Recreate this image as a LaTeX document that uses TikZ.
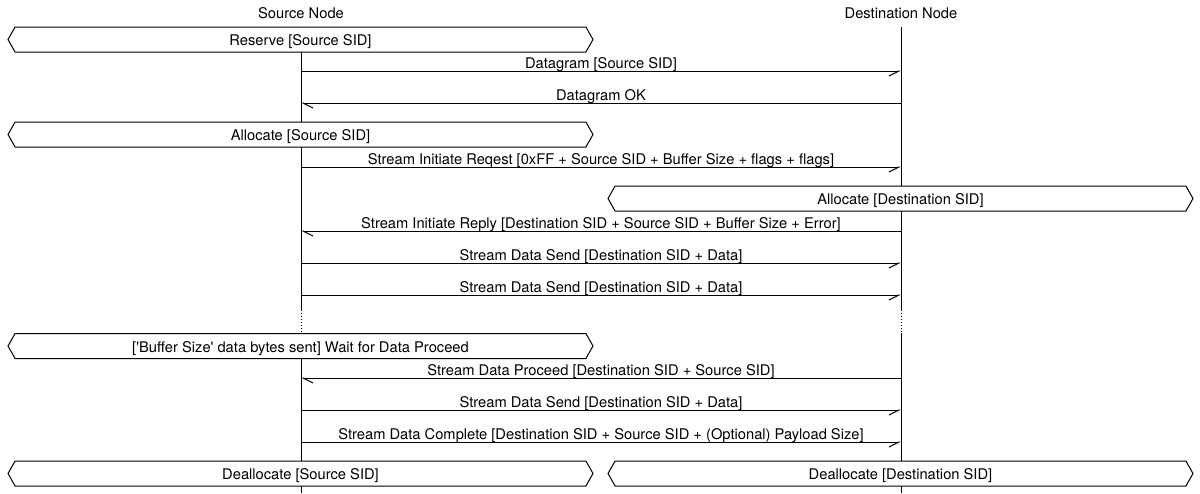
\documentclass[tikz,border=0pt]{standalone}
\usepackage{fontspec}
\setmainfont{TeX Gyre Heros}
\usetikzlibrary{arrows.meta,shapes.symbols}
\begin{document}
\begin{tikzpicture}[x=1pt,y=-1pt,
  every node/.style={font=\fontsize{14.7}{16}\selectfont},
  lifeline/.style={line width=1pt},
  gap/.style={line width=1pt,dotted},
  evbox/.style={signal, signal to=west and east, draw, fill=white, line width=1pt,
    minimum width=585pt, minimum height=25pt, inner sep=0pt, outer sep=0pt, signal pointer angle=121,
    text height=12.5pt, text depth=0pt},
  msgR/.style={line width=1pt,-{Straight Barb[harpoon,swap,length=10pt,width=10pt]}},
  msgL/.style={line width=1pt,-{Straight Barb[harpoon,length=10pt,width=10pt]}},
  lbl/.style={midway,above,inner sep=1pt,text depth=1.5pt}]
\useasboundingbox (0,0) rectangle (1200,493);
\coordinate (S) at (301,0);
\coordinate (D) at (901,0);
\node (srcH) at (301,13) {Source Node};
\node (dstH) at (901,13) {Destination Node};
% lifelines
\draw[lifeline] (S |- 0,27) -- (S |- 0,310);
\draw[gap] (S |- 0,310) -- (S |- 0,333);
\draw[lifeline] (S |- 0,333) -- (S |- 0,493);
\draw[lifeline] (D |- 0,27) -- (D |- 0,310);
\draw[gap] (D |- 0,310) -- (D |- 0,333);
\draw[lifeline] (D |- 0,333) -- (D |- 0,493);
% boxes
\node[evbox] (reserve) at (300.5,39.5) {Reserve [Source SID]};
\node[evbox] (allocS) at (300.5,134.5) {Allocate [Source SID]};
\node[evbox] (allocD) at (900.5,198.5) {Allocate [Destination SID]};
\node[evbox] (wait) at (300.5,346) {[\textquotesingle Buffer Size\textquotesingle{} data bytes sent] Wait for Data Proceed};
\node[evbox] (deallocS) at (300.5,473.5) {Deallocate [Source SID]};
\node[evbox] (deallocD) at (900.5,473.5) {Deallocate [Destination SID]};
% messages
\draw[msgR] (S |- 0,71) -- (D |- 0,71) node[lbl] {Datagram [Source SID]};
\draw[msgL] (D |- 0,103) -- (S |- 0,103) node[lbl] {Datagram OK};
\draw[msgR] (S |- 0,167) -- (D |- 0,167) node[lbl] {Stream Initiate Reqest [0xFF + Source SID + Buffer Size + flags + flags]};
\draw[msgL] (D |- 0,231) -- (S |- 0,231) node[lbl] {Stream Initiate Reply [Destination SID + Source SID + Buffer Size + Error]};
\draw[msgR] (S |- 0,263) -- (D |- 0,263) node[lbl] {Stream Data Send [Destination SID + Data]};
\draw[msgR] (S |- 0,295) -- (D |- 0,295) node[lbl] {Stream Data Send [Destination SID + Data]};
\draw[msgL] (D |- 0,378) -- (S |- 0,378) node[lbl] {Stream Data Proceed [Destination SID + Source SID]};
\draw[msgR] (S |- 0,410) -- (D |- 0,410) node[lbl] {Stream Data Send [Destination SID + Data]};
\draw[msgR] (S |- 0,442) -- (D |- 0,442) node[lbl] {Stream Data Complete [Destination SID + Source SID + (Optional) Payload Size]};
\end{tikzpicture}
\end{document}
